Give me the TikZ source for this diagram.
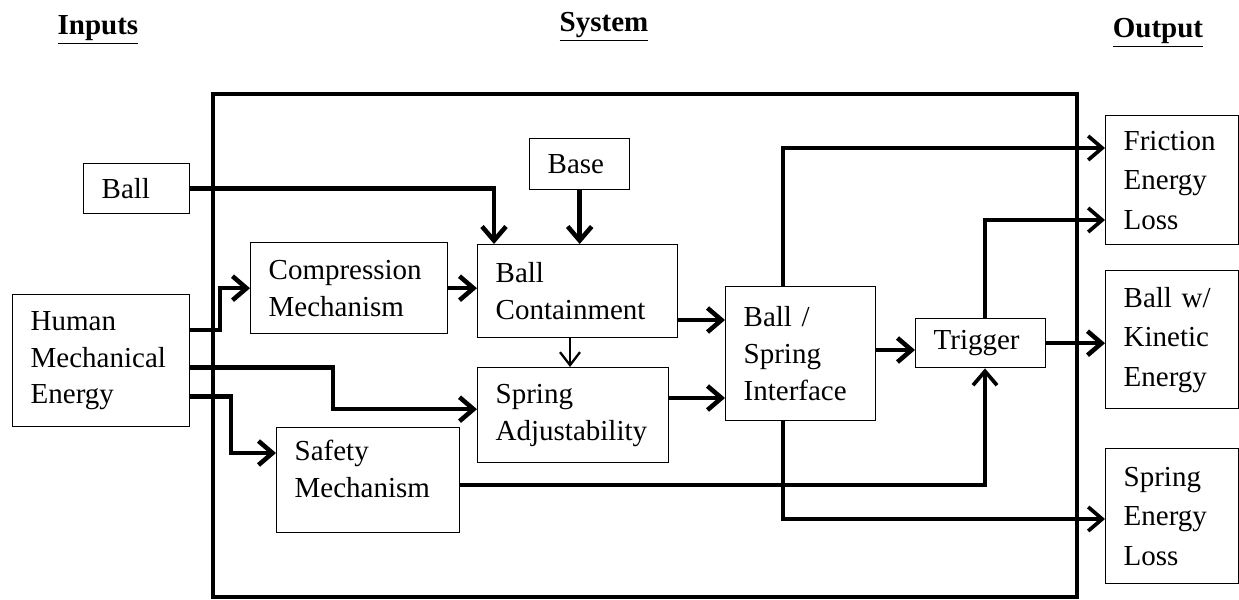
\documentclass[tikz,border=0pt]{standalone}
\usepackage{fontspec}
\setmainfont{Liberation Serif}
\usetikzlibrary{arrows.meta,calc,positioning}

\begin{document}
\begin{tikzpicture}[x=0.02cm,y=-0.02cm,
  blk/.style={draw,line width=0.8pt,anchor=north west,align=left,inner xsep=0.36cm,inner ysep=0pt,font=\fontsize{16.5}{21}\selectfont},
  outblk/.style={blk,minimum width=2.66cm,text width=1.94cm,font=\fontsize{16.5}{22.5}\selectfont},
  hdr/.style={font=\fontsize{16.5}{20}\selectfont\bfseries},
  conn/.style={line width=2.6pt,-{Straight Barb[length=0.28cm,width=0.48cm]}},
  thinconn/.style={line width=1.3pt,-{Straight Barb[length=0.26cm,width=0.4cm]}},
  midconn/.style={line width=2.1pt,-{Straight Barb[length=0.28cm,width=0.48cm]}}]
  \useasboundingbox (0,0) rectangle (1239,599);
  \node[hdr] (inputs) at (98,30) {\underline{Inputs}};
  \node[hdr] (system) at (604,27) {\underline{System}};
  \node[hdr] (output) at (1158,33) {\underline{Output}};
  \draw[line width=2.4pt] (213,94) rectangle (1077,597);
  \node[blk,minimum width=2.12cm,text width=1.4cm,minimum height=1cm] (ball) at (83,163) {Ball};
  \node[blk,minimum width=2cm,text width=1.28cm,minimum height=1.02cm] (base) at (529,138) {Base};
  \node[blk,minimum width=3.54cm,text width=2.82cm,minimum height=2.64cm] (human) at (12,294) {Human\\Mechanical\\Energy};
  \node[blk,minimum width=3.94cm,text width=3.22cm,minimum height=1.82cm] (comp) at (250,242) {Compression\\Mechanism};
  \node[blk,minimum width=4cm,text width=3.28cm,minimum height=1.86cm] (cont) at (477,244) {Ball\\Containment};
  \node[blk,minimum width=3.82cm,text width=3.1cm,minimum height=1.9cm] (sadj) at (477,367) {Spring\\Adjustability};
  \node[blk,minimum width=3.66cm,text width=2.94cm,minimum height=2.1cm,text depth=1.2cm] (safe) at (276,427) {Safety\\Mechanism};
  \node[blk,minimum width=3cm,text width=2.28cm,minimum height=2.68cm] (intf) at (725,286) {Ball /\\Spring\\Interface};
  \node[blk,minimum width=2.6cm,text width=1.88cm,minimum height=0.98cm] (trig) at (915,318) {Trigger};
  \node[outblk,minimum height=2.58cm] (fric) at (1105,115) {Friction\\Energy\\Loss};
  \node[outblk,minimum height=2.76cm] (bke) at (1105,270) {Ball w/\\Kinetic\\Energy};
  \node[outblk,minimum height=2.7cm] (sel) at (1105,448) {Spring\\Energy\\Loss};

  \draw[conn] (ball.east) -| ($(cont.north west)+(17,0)$);
  \draw[conn] (base.south) -- (base.south |- cont.north);
  \draw[conn] ($(human.north east)+(0,36)$) -| ($(comp.west)+(-30,0)$) -- (comp.west);
  \draw[conn] (comp.east) -- (comp.east -| cont.west);
  \draw[thinconn] ($(cont.south west)+(93,0)$) -- ($(sadj.north west)+(93,0)$);
  \draw[conn] ($(human.east)+(0,7)$) -| ($(sadj.west)+(-144,-6)$) -- ($(sadj.west)+(0,-6)$);
  \draw[conn] ($(human.east)+(0,36)$) -| ($(safe.north west)+(-45,26)$) -- ($(safe.north west)+(0,26)$);
  \draw[conn] ($(cont.north east)+(0,76)$) -- ($(intf.north west)+(0,34)$);
  \draw[conn] ($(sadj.north east)+(0,31)$) -- ($(intf.north west)+(0,112)$);
  \draw[conn] ($(intf.north east)+(0,64)$) -- ($(trig.north west)+(0,32)$);
  \draw[midconn] ($(intf.north west)+(58,0)$) |- ($(fric.north west)+(0,33)$);
  \draw[midconn] ($(trig.north west)+(70,0)$) |- ($(fric.north west)+(0,105)$);
  \draw[conn] (trig.east) -- (trig.east -| bke.west);
  \draw[midconn] ($(safe.north east)+(0,58)$) -| ($(trig.south west)+(70,0)$);
  \draw[midconn] ($(intf.south west)+(58,0)$) |- ($(sel.north west)+(0,71)$);
\end{tikzpicture}
\end{document}
